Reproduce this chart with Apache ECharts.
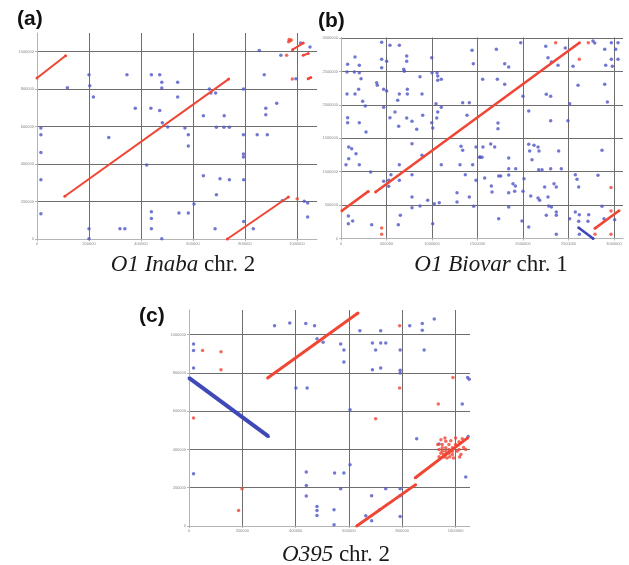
<!DOCTYPE html>
<html>
<head>
<meta charset="utf-8">
<script src="https://cdn.jsdelivr.net/npm/echarts@6/dist/echarts.min.js"></script>
<style>
  html, body { margin: 0; padding: 0; background: #fff; }
  #chart { width: 629px; height: 565px; }
</style>
</head>
<body>
<div id="chart"></div>
<script>
// values are in kb, multiplied to bp when the series are built
// (a) O1 Inaba chr. 2
var aBlue = [[15,592],[15,556],[15,462],[15,316],[15,135],[117,807],[200,876],[203,818],[217,757],[200,55],[200,2],
    [276,542],[319,55],[338,55],[346,876],[378,697],[422,395],[440,876],[438,697],[440,146],[440,110],[440,55],
    [472,876],[472,686],[480,836],[480,805],[482,620],[480,2],[503,597],[541,836],[541,757],[546,139],
    [569,592],[582,556],[582,496],[582,139],[604,187],[640,658],[640,338],[663,800],[669,779],[687,779],
    [690,596],[719,596],[740,596],[720,658],[704,322],[740,316],[690,236],[685,55],
    [794,800],[794,556],[794,453],[794,437],[795,316],[795,94],[832,55],[847,556],[886,556],[855,1006],
    [874,876],[880,697],[880,663],[922,724],[938,980],[996,855],[1028,201],[1041,192],[1041,117],
    [1050,1024],[1014,1045],[943,204]];
var aRed = [[973,1058],[968,1052],[978,1062],[970,1064],[960,980],[982,853],[1001,215]];
var aRedRuns = [[[0,859],[110,978]], [[107,228],[737,853]], [[732,0],[967,224]],
    [[983,1010],[1024,1045]], [[1024,980],[1043,989]], [[1043,855],[1053,862]]];
var aBlueRuns = [];

// (b) O1 Biovar chr. 1
var bBlue = [[73,2608],[66,2493],[154,2717],[147,2493],[201,2593],[201,2482],[220,2393],[66,2163],[154,2163],
    [194,2233],[238,2054],[267,1984],[73,1809],[73,1734],[201,1734],[275,1594],[85,1370],[117,1345],[165,1270],
    [85,1195],[55,1105],[201,1105],[326,995],[81,337],[81,222],[128,262],[337,207],
    [447,2937],[447,2682],[447,2557],[502,2652],[538,2892],[641,2892],[392,2332],[399,2293],[469,2233],[502,2208],
    [469,1964],[538,1809],[593,1894],[623,2069],[641,2163],[689,2533],[696,2503],[722,2732],[722,2652],[729,2233],
    [729,2163],[634,1680],[722,1804],[780,1754],[832,1634],[890,2163],[868,2423],[898,1844],[997,2707],[1000,2482],
    [1055,2482],[1063,2433],[1063,2368],[1102,2383],[1044,2018],[1102,1964],[1063,1894],[1052,1804],[997,1734],
    [1008,1654],[1337,2033],[1410,2033],[1385,1844],[780,1419],[890,1245],[1102,1105],[641,1105],[641,871],
    [549,955],[524,871],[524,781],[469,856],[780,955],[780,621],[780,461],[652,347],[630,207],[868,487],[953,572],
    [1008,222],[1025,521],[1080,536],[1337,1320],[1319,1380],[1308,1105],[1366,955],[1447,1105],[1484,1370],
    [1528,1220],[1484,871],[1275,686],[1275,546],[1410,621],[1458,482],[1440,2817],[1454,2617],
    [1707,2832],[1975,2931],[1799,2617],[1843,2567],[1557,2383],[1718,2383],[1799,2308],[2000,2129],[2250,2877],
    [2465,2852],[2275,2707],[2312,2642],[2385,2593],[2550,2578],[2769,2957],[2788,2927],[2898,2832],[2971,2931],
    [3044,2931],[3019,2832],[2971,2682],[3044,2682],[2909,2593],[2982,2578],[2605,2293],[2898,2308],[2927,2043],
    [2256,2158],[2304,2129],[2513,2018],[1725,1729],[1725,1644],[2063,1909],[2304,1764],[2494,1764],[1645,1415],
    [1689,1370],[1560,1370],[1524,1216],[1550,1216],[1843,1205],[2063,1410],[2121,1395],[2165,1370],[2176,1310],
    [2073,1310],[2099,1180],[2392,1310],[2868,1320],[1843,1045],[1920,1045],[2172,1030],[2209,1030],[2304,1045],
    [2421,1045],[1579,906],[1733,936],[1755,936],[1843,951],[1890,821],[1916,786],[2011,896],[1652,786],[1660,696],
    [1843,686],[1909,706],[2000,706],[2085,636],[2165,606],[2183,572],[2238,771],[2341,821],[2366,771],[2275,621],
    [2312,472],[2283,487],[2366,397],[2366,347],[2256,347],[1843,472],[1733,297],[1989,262],[2063,172],[2366,63],
    [2575,955],[2594,886],[2612,771],[2575,397],[2619,357],[2722,357],[2612,257],[2513,297],[2714,257],[2824,946],
    [2868,482],[2890,297],[2619,63],[3008,282]];
var bRed = [[447,157],[447,63],[2359,2931],[2718,2931],[2619,2683],[2967,765],[2967,412],[2967,63],[2791,63]];
var bRedRuns = [[[10,415],[300,705]], [[380,697],[2620,2931]], [[2791,152],[3055,416]]];
var bBlueRuns = [[[2612,160],[2770,0]]];

// (c) O395 chr. 2
var cBlue = [[17,950],[17,917],[17,825],[17,273],[321,1046],[378,1060],[438,1057],[471,1046],[480,978],[503,959],
    [401,721],[443,721],[440,282],[440,212],[440,157],[480,102],[480,81],[480,55],
    [569,950],[581,919],[581,856],[641,1020],[719,1020],[688,956],[719,956],[738,956],[700,919],[688,816],[719,825],
    [792,919],[792,813],[792,799],[828,1046],[875,1057],[875,1022],[882,919],[920,1081],[1045,776],[1051,767],
    [1025,637],[604,607],[854,456],[938,428],[1047,468],[1038,256],[604,320],[546,277],[581,277],[569,195],
    [685,158],[738,195],[792,195],[792,158],[792,50],[544,85],[544,7],[663,54],[685,28],[715,85]];
var cRed = [[51,917],[120,910],[120,816],[17,564],[199,195],[186,81],[790,1046],[790,721],[700,560],[935,637],[990,776],
    [933,425],[938,400],[945,380],[950,425],[950,408],[950,390],[955,373],[958,360],[963,442],[963,408],[963,390],
    [963,373],[968,355],[975,425],[975,400],[975,380],[978,362],[982,445],[988,408],[988,390],[988,373],[992,355],
    [1000,459],[1000,425],[1005,390],[1013,440],[1013,400],[1020,373],[1025,455],[1030,410],[1038,400],[1015,360],
    [945,450],[960,459],[938,362]];
var cRedRuns = [[[295,773],[634,1112]], [[629,0],[850,216]], [[849,252],[1045,460]]];
var cBlueRuns = [[[0,773],[298,468]]];

// axis steps (bp) and extents
var stepA = 200000, stepB = 500000, stepC = 200000;
var maxA = [1077000, 1099000], maxB = [3099000, 3009000], maxC = [1054000, 1128000];

var captions = [
    { it: 'O1 Inaba', rest: ' chr. 2', x: 183, y: 265 },
    { it: 'O1 Biovar', rest: ' chr. 1', x: 491, y: 265 },
    { it: 'O395', rest: ' chr. 2', x: 336, y: 555 }
];
var panelLetters = [
    { t: '(a)', x: 17, y: 9 },
    { t: '(b)', x: 318, y: 11 },
    { t: '(c)', x: 139, y: 306 }
];

var BLUE = '#4f56c6', RED = '#f04634';

function kb(list) {
    return list.map(function(p) { return [p[0] * 1000, p[1] * 1000]; });
}

function makeAxis(gi, max, step, isX) {
    return {
        type: 'value', gridIndex: gi, min: 0, max: max, interval: step,
        axisLine: { show: true, onZero: false, lineStyle: { color: '#b4b4b4', width: 1 } },
        axisTick: { show: true, length: 2, lineStyle: { color: '#b4b4b4' } },
        axisLabel: {
            show: true, fontSize: 4, color: '#8a8a8a', margin: isX ? 3 : 3,
            showMaxLabel: false,
            formatter: function(v) { return String(v); }
        },
        splitLine: { show: true, showMinLine: false, showMaxLine: false, lineStyle: { color: '#6e6e6e', width: 1 } }
    };
}

var series = [];
function addPanel(gi, blue, red, redRuns, blueRuns, runWidth, blueWidth) {
    series.push({
        type: 'scatter', xAxisIndex: gi, yAxisIndex: gi, data: kb(blue),
        symbolSize: 3.5, itemStyle: { color: BLUE }, silent: true, z: 3
    });
    redRuns.forEach(function(run) {
        series.push({
            type: 'line', xAxisIndex: gi, yAxisIndex: gi, data: kb(run),
            showSymbol: true, symbol: 'circle', symbolSize: 3, itemStyle: { color: RED },
            lineStyle: { color: RED, width: runWidth }, silent: true, z: 4
        });
    });
    blueRuns.forEach(function(run) {
        series.push({
            type: 'line', xAxisIndex: gi, yAxisIndex: gi, data: kb(run),
            showSymbol: true, symbol: 'circle', symbolSize: 3, itemStyle: { color: '#3e48b8' },
            lineStyle: { color: '#3e48b8', width: blueWidth }, silent: true, z: 4
        });
    });
    series.push({
        type: 'scatter', xAxisIndex: gi, yAxisIndex: gi, data: kb(red),
        symbolSize: 3.5, itemStyle: { color: RED }, silent: true, z: 5
    });
}
addPanel(0, aBlue, aRed, aRedRuns, aBlueRuns, 2, 3);
addPanel(1, bBlue, bRed, bRedRuns, bBlueRuns, 2.6, 2.6);
addPanel(2, cBlue, cRed, cRedRuns, cBlueRuns, 3, 4);

var graphics = [];
captions.forEach(function(c) {
    graphics.push({
        type: 'text', x: c.x, y: c.y,
        style: {
            text: '{i|' + c.it + '}' + c.rest,
            align: 'center', verticalAlign: 'middle',
            fontFamily: 'Liberation Serif', fontSize: 23, fill: '#1a1a1a',
            rich: { i: { fontStyle: 'italic', fontFamily: 'Liberation Serif', fontSize: 23, fill: '#1a1a1a' } }
        }
    });
});
panelLetters.forEach(function(p) {
    graphics.push({
        type: 'text', x: p.x, y: p.y,
        style: { text: p.t, fontFamily: 'Liberation Sans', fontWeight: 'bold', fontSize: 21, fill: '#111' }
    });
});

var chart = echarts.init(document.getElementById('chart'), null, { renderer: 'canvas' });
chart.setOption({
    animation: false,
    backgroundColor: '#fff',
    grid: [
        { left: 37, top: 33, width: 280, height: 206 },
        { left: 341, top: 37.5, width: 282, height: 201 },
        { left: 189, top: 310, width: 281, height: 216 }
    ],
    xAxis: [makeAxis(0, maxA[0], stepA, true), makeAxis(1, maxB[0], stepB, true), makeAxis(2, maxC[0], stepC, true)],
    yAxis: [makeAxis(0, maxA[1], stepA, false), makeAxis(1, maxB[1], stepB, false), makeAxis(2, maxC[1], stepC, false)],
    series: series,
    graphic: graphics
});
</script>
</body>
</html>
